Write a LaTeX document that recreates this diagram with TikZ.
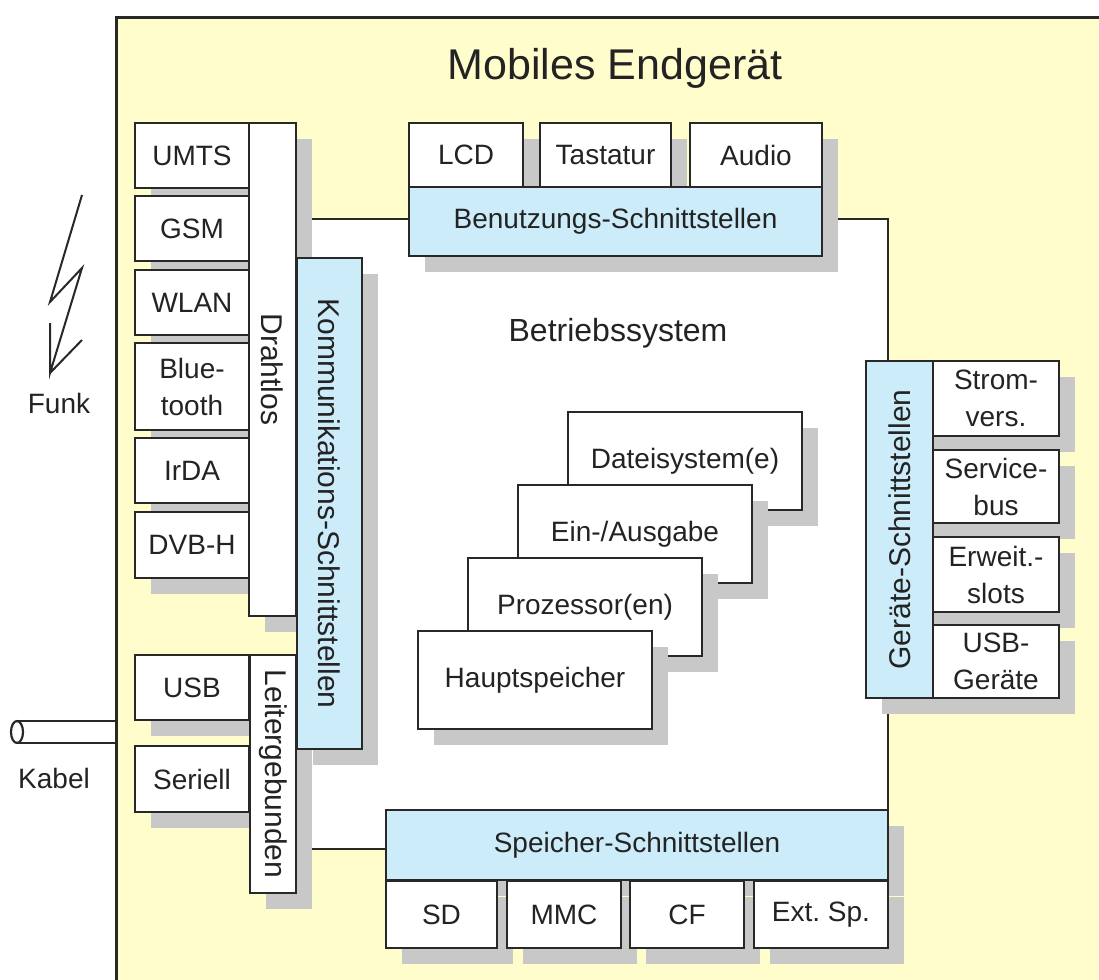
\documentclass[tikz,border=0pt]{standalone}
\usepackage{fontspec}
\setmainfont{Liberation Sans}
\usetikzlibrary{shadows,positioning}
\definecolor{devyellow}{RGB}{255,253,204}
\definecolor{ifblue}{RGB}{204,236,250}
\definecolor{shadowgray}{RGB}{200,200,200}
\definecolor{linegray}{RGB}{40,40,40}
\definecolor{textgray}{RGB}{35,35,35}

\begin{document}
\begin{tikzpicture}[x=1pt,y=-1pt]
        % Define styles for shapes
        \tikzstyle{devframe} = [draw=linegray, line width=3pt, fill=devyellow, inner sep=0pt, anchor=north west]
        \tikzstyle{osbox} = [draw=linegray, line width=2.4pt, fill=white, inner sep=0pt, anchor=north west]
        \tikzstyle{compbox} = [draw=linegray, line width=2.4pt, fill=white, inner sep=0pt, align=center,
            text=textgray, font=\fontsize{28}{37}\selectfont,
            drop shadow={shadow xshift=16pt, shadow yshift=-16pt, fill=shadowgray, opacity=1}]
        \tikzstyle{ifbox} = [compbox, fill=ifblue]
        \tikzstyle{cell} = [compbox, minimum width=114pt, minimum height=65pt]
        \tikzstyle{stackbox} = [compbox, minimum width=234pt, minimum height=98pt]
        \tikzstyle{sidebox} = [compbox, minimum width=126pt, minimum height=74pt]
        \tikzstyle{vlabel} = [text=textgray, font=\fontsize{30}{34}\selectfont, inner sep=0pt]
        \tikzstyle{plain} = [text=textgray, font=\fontsize{28}{34}\selectfont, inner sep=0pt]

        \useasboundingbox (0,0) rectangle (1099,979);

        % Draw shapes
        \node[devframe, minimum width=1000pt, minimum height=980pt] (device) at (115,16) {};
        \node[plain, font=\fontsize{43}{48}\selectfont, anchor=base] (title) at (615,80) {Mobiles Endgerät};

        % Betriebssystem
        \node[osbox, minimum width=587pt, minimum height=630pt] (os) at (300,218) {};
        \node[plain, font=\fontsize{32}{36}\selectfont] (oslabel) at (618,333) {Betriebssystem};
        \node[stackbox] (dateisys) at (685,461) {Dateisystem(e)};
        \node[stackbox] (einaus) at ([shift={(-50,73)}]dateisys.center) {Ein-/Ausgabe};
        \node[stackbox] (proz) at ([shift={(-50,73)}]einaus.center) {Prozessor(en)};
        \node[stackbox] (haupt) at ([shift={(-50,73)}]proz.center) {Hauptspeicher};

        % Benutzungs-Schnittstellen
        \node[compbox, minimum width=114pt, minimum height=64pt] (lcd) at (466,155) {LCD};
        \node[compbox, minimum width=131pt, minimum height=64pt] (tastatur) at (605.5,155) {Tastatur};
        \node[compbox, minimum width=132pt, minimum height=64pt] (audio) at (756,155) {Audio};
        \node[ifbox, minimum width=413pt, minimum height=69pt] (benutzung) at (615.5,221.5) {Benutzungs-Schnittstellen};

        % Kommunikations-Schnittstellen
        \node[cell] (umts) at (192,155.5) {UMTS};
        \node[cell] (gsm) at (192,228.5) {GSM};
        \node[cell] (wlan) at (192,302.5) {WLAN};
        \node[cell, minimum height=87pt] (bluetooth) at (192,386.5) {Blue-\\tooth};
        \node[cell] (irda) at (192,470.5) {IrDA};
        \node[cell, minimum height=66pt] (dvbh) at (192,545) {DVB-H};
        \node[compbox, minimum width=47pt, minimum height=493pt] (drahtlos) at (272.5,369.5) {};
        \node[vlabel, rotate=-90] (drahtlostext) at (drahtlos) {Drahtlos};

        \node[cell] (usb) at (192,687.5) {USB};
        \node[cell, minimum height=66pt] (seriell) at (192,779) {Seriell};
        \node[compbox, minimum width=46pt, minimum height=238pt] (leiter) at (273,774) {};
        \node[vlabel, rotate=-90] (leitertext) at (leiter) {Leitergebunden};

        \node[ifbox, minimum width=65pt, minimum height=491pt] (komm) at (329.5,503.5) {};
        \node[vlabel, rotate=-90] (kommtext) at (komm) {Kommunikations-Schnittstellen};

        % Geraete-Schnittstellen
        \node[ifbox, minimum width=67pt, minimum height=337pt] (geraete) at (899.5,529.5) {};
        \node[vlabel, rotate=90] (geraetetext) at (geraete) {Geräte-Schnittstellen};
        \node[sidebox, minimum height=75pt] (strom) at (996,398.5) {Strom-\\vers.};
        \node[sidebox, minimum height=73pt] (service) at (996,486.5) {Service-\\bus};
        \node[sidebox, minimum height=75pt] (erweit) at (996,574.5) {Erweit.-\\slots};
        \node[sidebox, minimum height=73pt] (usbgeraete) at (996,661.5) {USB-\\Geräte};

        % Speicher-Schnittstellen
        \node[ifbox, minimum width=502pt, minimum height=70pt] (speicher) at (637,845) {Speicher-Schnittstellen};
        \node[compbox, minimum width=111pt, minimum height=67pt] (sd) at (441.5,914.5) {SD};
        \node[compbox, minimum width=114pt, minimum height=67pt] (mmc) at (564,914.5) {MMC};
        \node[compbox, minimum width=114pt, minimum height=67pt] (cf) at (687,914.5) {CF};
        \node[compbox, minimum width=134pt, minimum height=67pt] (extsp) at (821,914.5) {Ext.\ Sp.};

        % Funk und Kabel
        \draw[linegray, line width=2pt, line join=miter] (82,195) -- (50,302) -- (82,268) -- (50,373) -- (50,323)
            (50,373) -- (82,340);
        \node[plain] (funk) at (59,403) {Funk};
        \draw[linegray, line width=2.2pt] (115,721) -- (17,721) (115,743) -- (17,743);
        \draw[linegray, line width=2.2pt] (17,732) ellipse (6pt and 11pt);
        \node[plain] (kabel) at (54,778) {Kabel};
\end{tikzpicture}
\end{document}
